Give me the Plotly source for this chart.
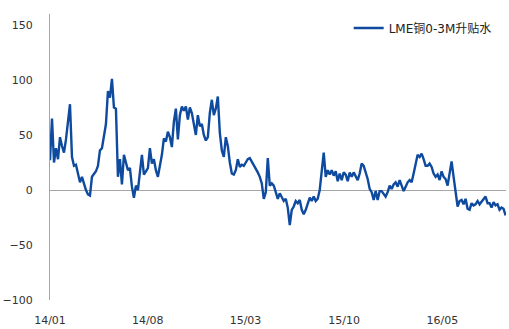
import pandas as pd
import plotly.graph_objects as go

series_name = "LME铜0-3M升贴水"
start_date = "2014-01-01"
tick_dates = ["2014-01-01", "2014-08-01", "2015-03-01", "2015-10-01", "2016-05-01"]
tick_labels = ["14/01", "14/08", "15/03", "15/10", "16/05"]

values = [
    27, 65, 25, 38, 28, 48, 40, 34, 46, 60,
    78, 30, 22, 23, 16, 7, 12, 5, 0, -4,
    -5, 12, 14, 17, 22, 36, 38, 50, 60, 90,
    84, 101, 75, 74, 12, 28, 5, 32, 24, 18,
    20, 3, -7, 4, 0, 15, 32, 14, 17, 20,
    38, 24, 28, 18, 12, 22, 32, 47, 44, 53,
    48, 39, 62, 74, 46, 68, 76, 72, 76, 64,
    75, 70, 60, 50, 68, 58, 60, 50, 45, 48,
    70, 82, 68, 74, 85, 52, 36, 30, 48, 40,
    25, 15, 14, 18, 28, 21, 23, 22, 25, 28,
    29, 26, 22, 20, 16, 12, 6, -8, -2, 29,
    4, 6, 4, -2, -8, -3, -7, -10, -8, -16,
    -32, -18, -15, -10, -12, -9, -18, -22, -18, -12,
    -7, -10, -6, -10, -8, 0, 20, 34, 12, 18,
    14, 18, 13, 17, 8, 15, 9, 16, 14, 8,
    16, 12, 16, 13, 9, 15, 24, 22, 16, 10,
    1, -2, -9, -1, -9, -1, -1, -3, -6, -2,
    4, 1, 5, 7, 3, 9, 3, -1, 3, 7,
    9, 7, 15, 23, 32, 30, 33, 28, 22, 22,
    24, 21, 15, 12, 14, 9, 17, 12, 10, 4,
    15, 26, 12, -4, -15, -10, -9, -13, -8, -17,
    -18, -12, -14, -13, -10, -13, -11, -8, -6, -12,
    -12, -16, -11, -14, -13, -18, -16, -17, -23,
]

dates = pd.date_range(start_date, periods=len(values), freq="104h")

fig = go.Figure()
fig.add_trace(go.Scatter(
    x=dates, y=values, mode="lines", name=series_name,
    line=dict(color="#0E4A9E", width=2.4),
))

fig.update_layout(
    width=509, height=329,
    margin=dict(l=50, r=3, t=14, b=29),
    paper_bgcolor="white", plot_bgcolor="white",
    font=dict(family="DejaVu Sans, Noto Sans CJK SC, sans-serif", size=11, color="#333333"),
    showlegend=True,
    legend=dict(x=0.655, y=0.951, xanchor="left", yanchor="middle",
                bgcolor="rgba(0,0,0,0)", font=dict(size=12, color="#222222",
                family="DejaVu Sans, Noto Sans CJK SC, sans-serif")),
)
fig.update_xaxes(
    range=[dates[0], dates[-1] + pd.Timedelta(days=1)],
    tickvals=pd.to_datetime(tick_dates), ticktext=tick_labels,
    showgrid=False, showline=False, zeroline=False, ticks="",
    ticklabelstandoff=12, automargin=False,
    tickfont=dict(size=11, color="#333333"),
)
fig.update_yaxes(
    range=[-100, 160], tickvals=[-100, -50, 0, 50, 100, 150],
    showgrid=False, showline=True, linecolor="#A6A6A6", linewidth=1,
    zeroline=True, zerolinecolor="#A6A6A6", zerolinewidth=1, ticks="",
    ticklabelstandoff=14, automargin=False, tickfont=dict(size=11, color="#333333"),
)

fig.write_html("out.html")
